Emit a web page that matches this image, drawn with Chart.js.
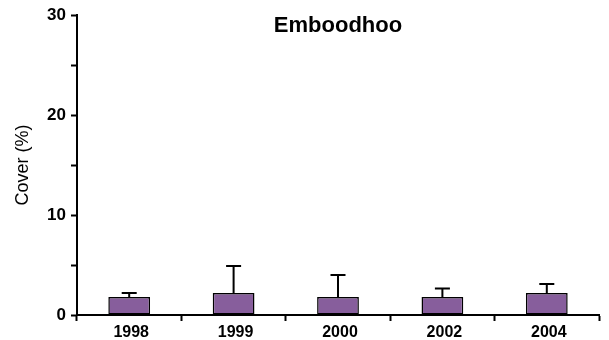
<!DOCTYPE html>
<html>
<head>
<meta charset="utf-8">
<title>Emboodhoo</title>
<script src="https://cdn.jsdelivr.net/npm/chart.js@4/dist/chart.umd.min.js"></script>
<style>
  html, body { margin: 0; padding: 0; background: #ffffff; }
  canvas { display: block; }
</style>
</head>
<body>
<canvas id="chart" width="609" height="340"></canvas>
<script>
// Survey years, mean cover and the upper error (one SE) for each year
const years = ['1998', '1999', '2000', '2002', '2004'];
const cover = [1.8, 2.2, 1.8, 1.8, 2.2];
const coverError = [0.4, 2.7, 2.2, 0.85, 0.9];
const yTicks = [0, 10, 20, 30];
const siteName = 'Emboodhoo';
const yTitle = 'Cover (%)';

const FONT = "'Liberation Sans', Arial, Helvetica, sans-serif";
const BAR_FILL = '#875E9C';

// Upward error whiskers with a cap, drawn from the bar value through the y scale
const errorBars = {
  id: 'errorBars',
  afterDatasetsDraw(chart) {
    const { ctx, scales: { y } } = chart;
    const meta = chart.getDatasetMeta(0);
    ctx.save();
    ctx.strokeStyle = '#000000';
    ctx.lineWidth = 2;
    meta.data.forEach((bar, i) => {
      const x = bar.x;
      const y0 = y.getPixelForValue(cover[i]);
      const y1 = y.getPixelForValue(cover[i] + coverError[i]);
      ctx.beginPath();
      ctx.moveTo(x, y0);
      ctx.lineTo(x, y1);
      ctx.moveTo(x - 7.5, y1);
      ctx.lineTo(x + 7.5, y1);
      ctx.stroke();
    });
    ctx.restore();
  }
};

// Site name centred inside the plot area
const siteTitle = {
  id: 'siteTitle',
  afterDraw(chart) {
    const { ctx, chartArea } = chart;
    ctx.save();
    ctx.fillStyle = '#000000';
    ctx.font = 'bold 22px ' + FONT;
    ctx.textAlign = 'center';
    ctx.textBaseline = 'alphabetic';
    ctx.fillText(siteName, (chartArea.left + chartArea.right) / 2, chartArea.top + 16.5);
    ctx.restore();
  }
};

new Chart(document.getElementById('chart'), {
  type: 'bar',
  data: {
    labels: years,
    datasets: [{
      data: cover,
      backgroundColor: BAR_FILL,
      borderColor: '#000000',
      borderWidth: 1.5,
      borderSkipped: false,
      barPercentage: 0.4,
      categoryPercentage: 1.0
    }]
  },
  options: {
    responsive: false,
    devicePixelRatio: 1,
    animation: false,
    layout: { padding: { top: 15, right: 10, bottom: 0, left: 0 } },
    plugins: {
      legend: { display: false },
      tooltip: { enabled: false },
      title: { display: false }
    },
    scales: {
      x: {
        offset: true,
        border: { display: true, color: '#000000', width: 2 },
        grid: {
          offset: true,
          drawOnChartArea: false,
          drawTicks: true,
          tickLength: 6,
          tickColor: '#000000',
          tickWidth: 2
        },
        ticks: {
          color: '#000000',
          padding: 2,
          labelOffset: 2,
          maxRotation: 0,
          font: { family: FONT, size: 16, weight: 'bold' }
        },
        afterFit(scale) { scale.height = 25; }
      },
      y: {
        min: yTicks[0],
        max: yTicks[yTicks.length - 1],
        border: { display: true, color: '#000000', width: 2 },
        grid: {
          drawOnChartArea: false,
          drawTicks: true,
          tickLength: 6,
          tickColor: '#000000',
          tickWidth: 2
        },
        ticks: {
          stepSize: 5,
          color: '#000000',
          padding: 5,
          font: { family: FONT, size: 17, weight: 'bold' },
          callback: (v) => (yTicks.includes(v) ? String(v) : '')
        },
        title: {
          display: true,
          text: yTitle,
          color: '#000000',
          padding: { top: 12, bottom: 0 },
          font: { family: FONT, size: 18, weight: 'normal' }
        },
        afterFit(scale) { scale.width = 77; }
      }
    }
  },
  plugins: [errorBars, siteTitle]
});
</script>
</body>
</html>
